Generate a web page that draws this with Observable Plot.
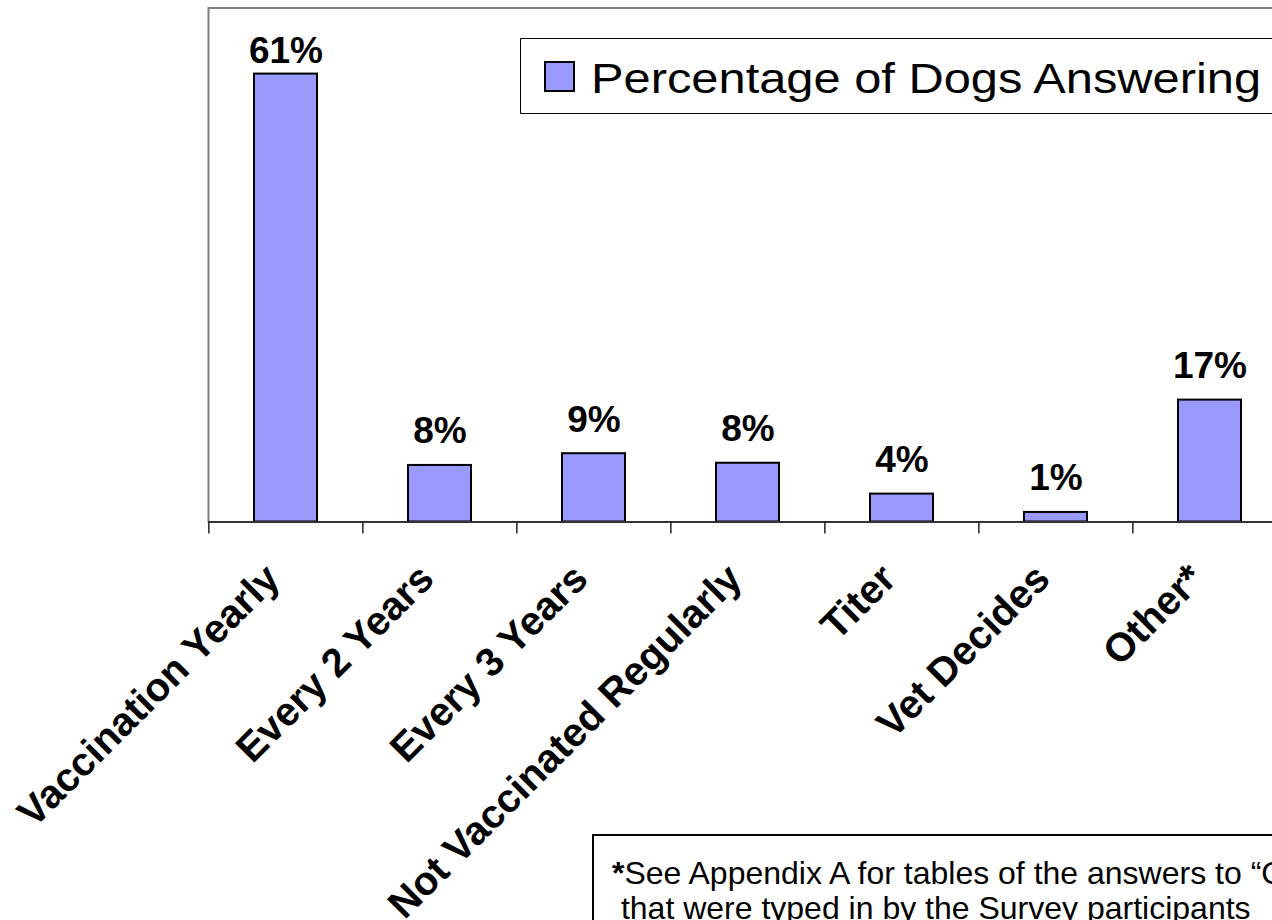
<!DOCTYPE html>
<html>
<head>
<meta charset="utf-8">
<script src="https://cdn.jsdelivr.net/npm/d3@7"></script>
<script src="https://cdn.jsdelivr.net/npm/@observablehq/plot@0.6"></script>
<style>
  html, body { margin: 0; padding: 0; background: #fff; overflow: hidden; width: 1272px; height: 920px; }
  #wrap { position: relative; width: 1272px; height: 920px; overflow: hidden; font-family: "Liberation Sans", Arial, sans-serif; }
  #chart { position: absolute; left: 0; top: 0; width: 1300px; height: 920px; }
  #chart svg { max-width: none !important; }
  #legend { position: absolute; left: 520px; top: 38px; width: 900px; height: 76px; border: 1px solid #000; background: #fff; box-sizing: border-box; }
  #legend .sw { position: absolute; left: 23px; top: 22px; width: 31px; height: 31px; background: #9999FF; border: 2px solid #000; box-sizing: border-box; }
  #legend .lt { position: absolute; left: 70px; top: 18px; font-size: 43px; line-height: 1; white-space: nowrap; transform: scaleX(1.135); transform-origin: left center; color: #000; }
  #note { position: absolute; left: 592px; top: 834px; width: 900px; height: 200px; border: 2px solid #000; background: #fff; box-sizing: border-box; }
  #note .tx { position: absolute; left: 18px; top: 20px; font-size: 32px; line-height: 35px; white-space: nowrap; color: #000; }
</style>
</head>
<body>
<div id="wrap">
  <div id="chart"></div>
  <div id="legend"><div class="sw"></div><div class="lt" id="legendText"></div></div>
  <div id="note"><div class="tx" id="noteText"></div></div>
</div>
<script>
const categories = ["Vaccination Yearly", "Every 2 Years", "Every 3 Years", "Not Vaccinated Regularly", "Titer", "Vet Decides", "Other*"];
const values = [61.0, 7.7, 9.3, 8.0, 3.8, 1.3, 16.6];
const valueLabels = ["61%", "8%", "9%", "8%", "4%", "1%", "17%"];
const seriesName = "Percentage of Dogs Answering";
const noteLines = ["See Appendix A for tables of the answers to \u201cOther\u201d", " that were typed in by the Survey participants"];

const data = categories.map((c, i) => ({category: c, value: values[i], label: valueLabels[i]}));

const W = 1300, H = 920, ML = 208, MR = 12, MT = 7.5, BASE = 521.5;
const step = (W - ML - MR) / categories.length;
const yMax = 70;
const font = "'Liberation Sans', Arial, sans-serif";

const chart = Plot.plot({
  width: W,
  height: H,
  marginLeft: ML,
  marginRight: MR,
  marginTop: MT,
  marginBottom: H - BASE,
  style: {background: "transparent", fontFamily: font, overflow: "visible", maxWidth: "none"},
  x: {domain: categories, paddingInner: 0.59, paddingOuter: 0.295, align: 0.5},
  y: {domain: [0, yMax], axis: null},
  marks: [
    Plot.frame({stroke: "#808080", strokeWidth: 2}),
    Plot.barY(data, {x: "category", y: "value", fill: "#9999FF", stroke: "#000", strokeWidth: 2}),
    Plot.ruleY([0], {stroke: "#333", strokeWidth: 2}),
    Plot.axisX({anchor: "bottom", tickSize: 12, tickFormat: () => "", dx: -step / 2, stroke: "#222", strokeWidth: 1.5}),
    Plot.text(categories, {x: d => d, frameAnchor: "bottom", rotate: -45, textAnchor: "end", lineAnchor: "bottom",
      dx: -4, dy: 59, fontSize: 40, fontWeight: "bold", fill: "#000"}),
    Plot.text(data, {filter: d => d.value < yMax * 0.85, x: "category", y: "value", text: "label", lineAnchor: "bottom",
      dy: -22, fontSize: 37, fontWeight: "bold", fill: "#000"}),
    Plot.text(data, {filter: d => d.value >= yMax * 0.85, x: "category", y: "value", text: "label", lineAnchor: "bottom",
      dy: -11, fontSize: 37, fontWeight: "bold", fill: "#000"})
  ]
});
document.getElementById("chart").appendChild(chart);

document.getElementById("legendText").textContent = seriesName;
const nt = document.getElementById("noteText");
const star = document.createElement("b");
star.textContent = "*";
nt.appendChild(star);
nt.appendChild(document.createTextNode(noteLines[0]));
nt.appendChild(document.createElement("br"));
nt.appendChild(document.createTextNode("\u00a0" + noteLines[1].trim()));
</script>
</body>
</html>
